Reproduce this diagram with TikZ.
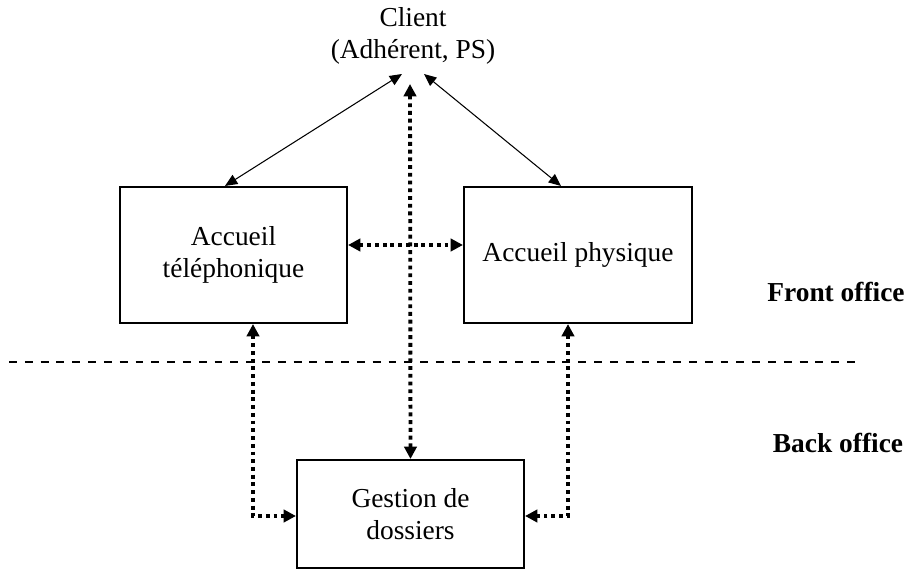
\documentclass[tikz,border=0pt]{standalone}
\usepackage{fontspec}
\setmainfont{Liberation Serif}
\usetikzlibrary{
    arrows.meta,
    calc,
    positioning
}
\newcommand{\boxfont}{\fontsize{15.6}{18.6}\selectfont}

\tikzset{
    bloc/.style={draw, line width=1.2pt, align=center, font=\boxfont,
                 minimum width=4.54cm, minimum height=2.72cm},
    lien/.style={line width=0.6pt, {Triangle[length=7pt,width=6pt]}-{Triangle[length=7pt,width=6pt]}},
    flux/.style={line width=2.2pt, dash pattern=on 2.2pt off 2.2pt,
                 {Triangle[length=7pt,width=7pt]}-{Triangle[length=7pt,width=7pt]}}
}

\begin{document}
\begin{tikzpicture}[x=0.02cm, y=-0.02cm]
    \useasboundingbox (0, 0) rectangle (907, 574);

    \node[align=center, font=\boxfont] (client) at (413, 36) {Client\\(Adhérent, PS)};
    \coordinate (cl) at (402, 74);
    \coordinate (cr) at (424, 74);
    \coordinate (cm) at (410, 84);

    \node[bloc] (tel) at (233.5, 255) {Accueil\\téléphonique};
    \node[bloc, minimum width=4.56cm] (phy) at (578, 255) {Accueil physique};
    \node[bloc, minimum height=2.16cm] (ges) at (410.5, 514) {Gestion de\\dossiers};

    \draw[line width=1.1pt, dash pattern=on 4.5pt off 4.5pt] (9, 362) -- (855, 362);
    \node[font=\boxfont\bfseries] (front) at (836, 292) {Front office};
    \node[font=\boxfont\bfseries] (back) at (838, 443) {Back office};

    \draw[lien] (cl) -- ($(tel.north)+(-8.5, 0)$);
    \draw[lien] (cr) -- ($(phy.north)+(-17, 0)$);

    \draw[flux] (cm) -- (ges.north);
    \draw[flux] ($(tel.east)+(0, -10)$) -- ($(phy.west)+(0, -10)$);
    \draw[flux] ($(tel.south)+(19.5, 0)$) |- ($(ges.west)+(0, 2)$);
    \draw[flux] ($(phy.south)+(-10, 0)$) |- ($(ges.east)+(0, 2)$);
\end{tikzpicture}
\end{document}
